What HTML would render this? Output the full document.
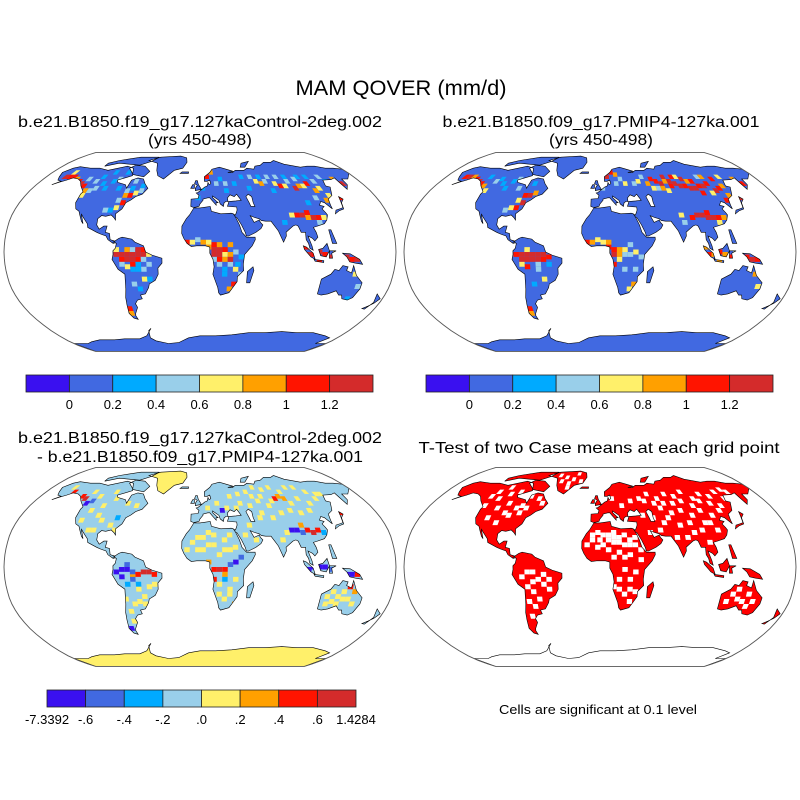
<!DOCTYPE html>
<html><head><meta charset="utf-8"><title>MAM QOVER</title>
<style>
html,body{margin:0;padding:0;background:#fff;}
svg{display:block;font-family:"Liberation Sans",sans-serif;}
</style></head>
<body>
<svg id="fig" width="800" height="800" viewBox="0 0 800 800">
<rect width="800" height="800" fill="#fff"/>
<text x="401" y="95" font-size="21" text-anchor="middle" textLength="211" lengthAdjust="spacingAndGlyphs">MAM QOVER (mm/d)</text>
<text x="200" y="127" font-size="16" text-anchor="middle" textLength="364" lengthAdjust="spacingAndGlyphs">b.e21.B1850.f19_g17.127kaControl-2deg.002</text>
<text x="200" y="145" font-size="16" text-anchor="middle" textLength="104" lengthAdjust="spacingAndGlyphs">(yrs 450-498)</text>
<text x="601" y="127" font-size="16" text-anchor="middle" textLength="317" lengthAdjust="spacingAndGlyphs">b.e21.B1850.f09_g17.PMIP4-127ka.001</text>
<text x="601" y="145" font-size="16" text-anchor="middle" textLength="104" lengthAdjust="spacingAndGlyphs">(yrs 450-498)</text>
<text x="200" y="443" font-size="16" text-anchor="middle" textLength="364" lengthAdjust="spacingAndGlyphs">b.e21.B1850.f19_g17.127kaControl-2deg.002</text>
<text x="200" y="462" font-size="16" text-anchor="middle" textLength="326" lengthAdjust="spacingAndGlyphs">- b.e21.B1850.f09_g17.PMIP4-127ka.001</text>
<text x="599" y="453" font-size="16" text-anchor="middle" textLength="361" lengthAdjust="spacingAndGlyphs">T-Test of two Case means at each grid point</text>
<text x="598" y="714" font-size="13" text-anchor="middle" textLength="198" lengthAdjust="spacingAndGlyphs">Cells are significant at 0.1 level</text>
<defs id="defs"></defs>
<g id="maps"></g>
</svg>
<script>
// ---------- colour scales ----------
const palette = ["#3a10f0","#4169e1","#00aaff","#99cfea","#fff06a","#ffa000","#ff1400","#d42b2b"];
const absLevels = [0,0.2,0.4,0.6,0.8,1,1.2];
const absLabels = ["0","0.2","0.4","0.6","0.8","1","1.2"];
const diffLevels = [-0.6,-0.4,-0.2,0,0.2,0.4,0.6];
const diffLabels = ["-7.3392","-.6","-.4","-.2",".0",".2",".4",".6","1.4284"];

// ---------- panel data: grid cells [lon, lat, value] ----------
const ctlBase = 0.1;
const ctlCells = [[-157,62,1.3],[-152,62,1.1],[-147,62,1.1],[-142,60,0.9],[-152,66,0.7],[-137,58,1.1],[-132,56,1.3],[-127,54,1.1],[-122,50,0.9],[-127,60,0.5],[-117,58,0.5],[-112,62,0.3],[-102,66,0.3],[-87,66,0.3],[-122,46,0.7],
[-77,46,0.9],[-72,46,1.1],[-67,48,0.7],[-82,42,0.5],[-77,40,1.1],[-82,36,0.7],[-87,34,0.3],[-92,34,0.5],[-72,58,0.5],[-62,54,0.3],
[-97,58,0.3],[-92,60,0.5],[-107,56,0.3],[-117,50,0.5],[-87,52,0.3],[-77,50,0.5],[-72,52,0.3],[-62,50,0.5],[-102,52,0.3],[-112,52,0.5],
[-77,-2,1.3],[-72,-2,1.3],[-67,-2,1.3],[-62,-2,1.3],[-57,-2,1.3],[-52,-2,1.3],[-72,-6,1.1],[-67,-6,1.3],[-62,-6,1.3],[-57,-6,1.1],[-52,-6,0.5],[-77,2,0.7],[-67,2,0.9],[-62,2,0.5],[-72,-10,0.5],[-67,-12,0.7],[-47,-2,0.7],[-57,-14,0.3],[-52,-22,0.7],[-47,-22,0.3],[-72,-46,1.1],[-72,-50,0.9],
[-57,2,1.3],[-52,2,1.1],[-62,-10,1.1],[-57,-10,0.3],[-47,-10,0.5],[-62,-14,0.3],[-52,-14,0.5],[-57,-30,0.3],[-62,-26,0.5],
[-12,8,1.1],[-7,8,0.7],[3,8,0.9],[8,4,0.9],[13,2,1.3],[18,2,1.3],[23,2,1.1],[13,-2,1.3],[18,-2,1.3],[23,-2,0.7],[28,-2,0.9],[18,-6,1.1],[23,-6,0.9],[13,-6,0.5],[28,-10,0.5],[33,-14,0.7],[28,6,0.9],[32,-26,1.1],[28,-30,0.9],[38,-18,0.5],[35,-10,0.3],
[28,-6,1.3],[13,6,1.1],[18,6,0.9],[23,-14,0.3],[18,-10,0.5],[8,8,0.7],[-2,10,0.5],[33,0,0.5],[38,-4,0.3],[23,-18,0.3],
[8,62,1.1],[13,66,0.9],[3,52,0.3],[23,60,0.3],[28,56,0.5],[38,56,0.3],[28,50,0.3],[18,56,0.5],[-2,44,0.3],
[63,58,0.7],[68,56,0.9],[73,58,0.5],[83,56,0.7],[88,54,1.1],[93,54,0.7],[98,58,0.5],[103,52,1.3],[108,54,0.9],[113,54,0.7],[118,56,1.1],[123,50,0.9],[128,52,0.7],[88,62,0.5],[113,62,0.3],[138,62,0.5],
[48,62,0.3],[58,62,0.5],[68,62,0.3],[78,62,0.5],[98,62,0.3],[108,60,0.5],[123,62,0.3],[128,58,0.5],[143,58,0.3],[78,50,0.3],[53,52,0.3],[118,44,0.5],[108,40,0.3],[123,34,0.5],[80,24,0.3],
[93,30,1.1],[98,30,1.3],[103,28,0.9],[108,28,1.3],[113,28,1.1],[118,28,0.7],[103,32,1.1],[113,24,0.5],[88,30,0.7],[128,42,0.9],[138,38,1.3],[143,44,1.1],[133,46,0.7],[158,56,1.3],[153,60,0.9],
[100,-2,1.3],[105,-2,1.1],[110,0,1.3],[115,-2,1.1],[120,-4,1.3],[125,2,0.9],[135,-4,1.3],[140,-6,1.1],[145,-6,1.3],[110,-8,1.1],[98,4,1.1],[145,-18,0.7],[150,-28,0.5],[145,-38,0.3]];

const pmipBase = 0.1;
const pmipCells = [[-157,62,1.1],[-152,62,1.3],[-147,62,0.9],[-142,60,1.1],[-137,58,1.3],[-132,56,1.1],[-127,54,0.9],[-122,50,0.7],[-117,58,0.5],[-127,62,0.3],[-112,60,0.3],
[-77,46,1.1],[-72,46,1.3],[-67,48,0.9],[-82,42,0.7],[-77,40,1.3],[-82,36,1.1],[-87,36,0.7],[-92,34,0.5],[-72,56,0.3],
[-97,58,0.3],[-92,60,0.5],[-107,56,0.3],[-87,52,0.5],[-102,52,0.3],
[-77,-2,1.1],[-72,-2,1.3],[-67,-2,1.3],[-62,-2,1.3],[-57,-2,1.3],[-52,-2,1.3],[-47,-4,1.1],[-72,-6,1.3],[-67,-6,1.3],[-62,-6,1.3],[-57,-6,1.3],[-52,-6,1.1],[-67,2,0.7],[-72,-10,0.7],[-67,-12,1.1],[-57,-14,0.5],[-52,-22,0.7],[-72,-46,1.1],[-72,-50,0.9],
[-57,-10,0.5],[-47,-10,0.3],[-62,-26,0.3],
[-12,8,1.1],[-7,8,0.9],[3,8,0.7],[8,4,1.1],[13,2,1.1],[18,2,0.9],[23,2,0.7],[13,-2,1.3],[18,-2,0.9],[23,-2,0.5],[28,-2,0.5],[18,-6,0.7],[13,-10,1.1],[28,6,0.5],[32,-26,0.9],[28,-30,0.7],[33,-14,0.5],
[23,-14,0.5],[8,8,0.9],[-2,10,0.7],[33,0,0.7],[38,-4,0.5],
[8,62,1.3],[13,66,1.1],[18,64,0.9],[3,52,0.5],[23,60,0.5],[28,56,0.7],[38,56,0.5],[43,58,0.7],[48,62,0.5],[18,56,0.5],
[53,56,0.9],[63,58,1.1],[68,56,1.3],[73,58,0.9],[78,54,1.1],[83,56,1.3],[88,54,1.3],[93,54,1.1],[98,58,0.9],[103,52,1.3],[108,54,1.1],[113,54,1.3],[118,56,1.1],[123,50,1.3],[128,52,1.1],[133,54,0.9],[88,62,0.7],[113,62,0.5],[138,62,0.7],[73,50,0.7],[63,52,0.5],
[58,60,1.1],[73,62,1.3],[83,62,1.1],[93,60,1.3],[103,58,1.1],[118,62,0.9],[128,60,1.1],[78,58,1.3],[98,52,1.3],[68,52,0.9],[58,52,0.7],[118,48,0.7],[108,48,1.1],
[93,30,1.3],[98,30,1.3],[103,28,1.3],[108,28,1.3],[113,28,1.1],[118,28,0.9],[103,32,1.1],[113,24,0.7],[88,28,1.1],[78,30,0.7],[128,42,1.1],[138,38,1.3],[143,44,1.3],[133,46,0.9],[158,56,1.1],[153,60,0.9],[80,24,0.5],[123,34,0.7],
[100,-2,1.1],[105,-2,0.9],[110,0,1.1],[115,-2,0.9],[120,-4,1.1],[125,2,0.7],[135,-4,1.1],[140,-6,1.3],[145,-6,1.1],[110,-8,0.9],[98,4,0.9],[145,-18,0.9],[150,-28,0.7]];

const diffBase = -0.1;
const diffCells = [[-7,20,0.1],[3,24,0.1],[13,18,0.1],[8,28,0.1],[23,22,0.1],[28,14,0.1],[18,10,0.1],[-2,14,0.1],[13,26,0.1],[33,16,0.1],[3,14,0.1],[-12,14,0.1],[28,26,0.1],
[-2,24,0.1],[23,14,0.1],[8,18,0.1],[33,-10,0.1],[28,-18,0.1],
[13,-2,0.5],[18,-2,0.7],[23,-2,0.5],[13,-10,0.5],[23,-6,0.3],[8,4,0.3],[28,2,-0.5],[33,4,-0.7],[38,8,-0.5],[23,-26,0.1],[28,-22,0.1],[18,-22,0.1],[33,-30,0.3],[18,-14,0.1],[23,-10,-0.3],
[-72,-2,-0.8],[-67,-2,-0.8],[-62,-4,-0.5],[-67,2,-0.5],[-72,-8,-0.7],[-77,-4,-0.7],[-52,-4,0.7],[-47,-4,0.7],[-42,-6,0.5],[-57,-6,0.5],[-62,-8,0.3],[-57,-14,-0.3],[-67,-14,-0.3],[-62,-10,-0.5],
[-62,-30,0.1],[-67,-36,0.1],[-57,-28,0.1],[-52,-24,0.1],[-67,-44,0.1],[-70,-26,0.1],[-72,-50,-0.7],[-42,-14,0.1],[-57,-18,0.1],[-47,-16,0.1],[-52,-30,0.1],
[-147,62,0.5],[-127,56,0.7],[-132,58,0.5],[-122,52,-0.8],[-117,54,-0.5],[-112,46,0.1],[-102,50,0.1],[-97,38,0.1],[-87,34,0.1],[-82,30,0.1],[-107,30,0.1],[-117,38,0.1],[-92,56,0.1],[-77,52,0.1],[-67,50,0.1],[-152,66,0.1],[-102,30,0.1],
[-112,58,0.1],[-97,62,0.1],[-122,62,0.1],[-87,58,0.1],[-102,42,0.1],[-82,40,-0.3],
[33,58,0.1],[43,60,0.1],[53,62,0.1],[63,66,0.1],[73,64,0.1],[83,66,0.1],[93,62,0.1],[103,66,0.1],[113,66,0.1],[123,62,0.1],[133,60,0.1],[63,54,0.1],[73,50,0.1],[53,50,0.1],[43,52,0.1],[93,46,0.1],[103,44,0.1],[113,46,0.1],[60,40,0.1],[73,40,0.1],[8,48,0.1],[18,52,0.1],[28,48,0.1],[48,34,0.1],[43,26,0.1],[53,22,0.1],[78,22,0.1],[83,28,0.1],
[38,48,0.1],[58,58,0.1],[68,58,0.1],[78,54,0.1],[98,52,0.1],[108,56,0.1],[118,52,0.1],[128,56,0.1],[138,60,0.1],[63,44,0.1],[83,44,0.1],
[83,56,0.5],[93,56,0.3],[88,58,0.3],[103,30,0.5],[108,28,0.7],[113,30,0.5],[98,34,0.3],[143,44,0.5],[93,30,-0.7],[88,30,-0.8],[98,28,-0.5],[23,46,-0.7],[118,28,-0.3],
[100,-2,-0.8],[105,0,-0.7],[110,0,-0.8],[115,0,-0.7],[120,-2,-0.5],[130,-4,-0.8],[135,-6,-0.8],[140,-6,-0.7],[145,-6,0.5],
[120,-24,0.1],[125,-28,0.1],[130,-24,0.1],[135,-20,0.1],[140,-26,0.1],[145,-30,0.1],[130,-30,0.1],[120,-30,0.1],[145,-20,0.3],[140,-16,0.5],[125,-20,0.1],[135,-26,0.1]];

// cells NOT significant (white) in the t-test panel: [lon, lat]
const sigGaps = [[-112,56],[-102,60],[-92,62],[-107,48],[-97,52],[-87,48],[-112,40],[-77,58],[-67,56],[-122,58],[-117,62],[-82,50],[-102,36],[-92,42],[-107,66],
[-97,44],[-82,44],[-122,50],[-77,48],[-62,52],
[-62,-4],[-57,-10],[-67,-16],[-52,-14],[-62,-20],[-47,-10],[-57,-26],[-67,-28],[-72,-8],[-52,-6],[-67,-4],[-62,-12],[-47,-18],[-62,-32],[-67,-40],
[-7,22],[3,26],[8,22],[13,20],[18,24],[23,26],[28,22],[33,18],[-12,18],[-2,16],[8,14],[18,12],[28,10],[38,6],[23,-2],[28,-10],[18,-18],[23,-22],[33,-20],[28,-28],[3,18],[13,28],
[0,22],[13,24],[23,18],[28,18],[-7,26],[18,20],[8,26],[-2,28],[33,24],[38,14],[13,8],[23,8],[33,-4],[18,-10],[28,-18],[13,-16],
[33,54],[43,56],[53,60],[63,56],[73,60],[83,58],[93,62],[103,56],[113,60],[123,58],[133,62],[143,64],[63,48],[73,44],[83,46],[93,42],[103,46],[113,42],[123,46],[53,40],[63,36],[78,34],[88,36],[98,30],[108,36],[23,50],[13,56],[43,42],[73,24],[103,20],
[48,54],[58,52],[68,52],[78,52],[88,54],[98,50],[108,54],[118,52],[128,50],[138,56],[148,62],[68,40],[58,30],[48,28],[83,24],[113,30],[103,36],[90,28],
[125,-22],[135,-28],[140,-22],[130,-18],[120,-28],[130,-26],[145,-28],[140,-32],
[-40,70],[-35,74],[-45,76],[-30,80],[-55,78],[-40,66],[-25,72],[-50,72]];

// ---------- coastlines (lon, lat) ----------
const LAND = {
 namerica:[[-168,66],[-162,70],[-156,71.5],[-140,70],[-128,70],[-115,68],[-95,72],[-85,70],[-80,63],[-94,59],[-92,57],[-82,55],[-79,52],[-78,59],[-72,61],[-65,60],[-61,56],[-56,52],[-60,47],[-66,45],[-70,42],[-74,40],[-76,35],[-81,31],[-80,26],[-82,28],[-85,30],[-90,29],[-94,29.5],[-97,27],[-97,22],[-94,18.5],[-90,21],[-87,21],[-88,16],[-84,15],[-83,10],[-79,9],[-78,7.5],[-80,7],[-85,10],[-87,13],[-92,14.5],[-96,16],[-105,20],[-106,23],[-112,29],[-114,31],[-110,23],[-112,25],[-115,30],[-117,33],[-121,35],[-124,40],[-124,47],[-123,49],[-130,54],[-135,58],[-140,60],[-147,61],[-152,59],[-158,57],[-163,55],[-157,58],[-162,59],[-165,62]],
 arcticis:[[-125,72],[-110,75],[-95,74],[-80,73],[-68,77],[-62,82],[-90,82],[-115,78],[-125,75]],
 baffin:[[-80,64],[-66,62],[-62,67],[-72,72],[-85,73],[-90,70]],
 greenland:[[-73,78],[-60,82],[-30,83.5],[-20,81],[-18,76],[-22,70],[-32,68],[-42,60],[-50,63],[-54,68],[-58,75],[-68,77]],
 samerica:[[-80,8],[-75,11],[-72,12],[-63,10.5],[-60,8],[-52,5],[-50,0],[-44,-2.5],[-35,-5],[-35,-9],[-39,-13],[-39,-18],[-42,-23],[-48,-26],[-49,-29],[-53,-34],[-58,-35],[-57,-38],[-62,-39],[-65,-42],[-64,-45],[-68,-50],[-69,-52],[-68,-55],[-72,-54],[-75,-50],[-74,-43],[-73,-37],[-71,-30],[-70,-18],[-76,-14],[-81,-6],[-80,-2],[-80,1],[-78,3],[-77,7]],
 africa:[[-17,15],[-17,21],[-13,27],[-10,30],[-6,35.8],[0,35.8],[10,37],[11,33],[20,31],[30,31.5],[32,31],[34,28],[37,22],[39,16],[43,12],[51,12],[51,10],[48,5],[41,-2],[40,-10],[40.5,-15],[35,-20],[35,-24],[32,-28],[28,-33],[20,-35],[18,-33],[17,-29],[12,-18],[13,-12],[12,-6],[9,-1],[9,4],[5,5],[-3,5],[-8,4.5],[-12,7],[-15,11]],
 madagascar:[[44,-25],[47,-25],[50,-15],[49,-12],[44,-16]],
 eurasia:[[-9,43],[-9,37],[-6,36],[-1,37],[0,39],[3,42],[3,43],[8,44],[10,44],[12,42],[16,38],[16,40],[18,40],[13,44],[13,45.5],[19,42],[20,39],[23,37],[24,40],[26,41],[29,41],[27,37],[36,36.5],[36,34],[35,32],[34,30],[32.5,30.5],[34,28],[35,28],[39,22],[42,16],[43,13],[45,13],[52,16],[57,19],[59,22],[57,24],[56,26],[51,24],[48,29.5],[52,28],[56,27],[58,25.5],[62,25],[67,25],[70,21],[73,17],[77,8],[80,13],[80,16],[87,21],[90,22],[92,21],[94,16],[98,16],[98,10],[100,7],[101,3],[104,1.5],[103,5],[100,13],[104,11],[106,9],[109,12],[108,16],[106,20],[110,21],[117,23],[120,26],[122,30],[121,32],[119,35],[122,37],[118,38],[121,41],[124,40],[129,35],[129,38],[130,43],[136,46],[141,53],[137,54],[140,59],[150,59.5],[156,61],[156,57],[157,51],[162,55],[163,60],[170,60],[180,65],[180,69],[170,70],[160,70],[150,72],[140,72],[130,71],[113,74],[105,78],[98,76],[88,76],[80,73],[72,72],[68,69],[60,70],[55,68],[44,68],[40,66],[34,66],[41,67],[33,69],[25,71],[15,69],[12,66],[5,62],[5,58],[8,58],[11,59],[12,56],[10,55],[9,57],[8,54],[5,53],[2,51],[-2,48.5],[-4,48],[-1,46],[-2,43.5]],
 blacksea:[[28,41],[28,44],[31,46.5],[35,45],[38,47],[41.5,42],[36,41.5]],
 caspian:[[47,45],[50,47],[53,45],[53,40],[54,37],[50,37],[49,40]],
 britain:[[-5,50],[1.5,51],[0,53],[-2,55.5],[-3,58.5],[-5,58.5],[-6,56],[-3,54.5],[-5,52]],
 ireland:[[-10,52],[-6,52],[-6,55],[-8,55]],
 iceland:[[-24,65],[-14,65],[-14,66.5],[-22,66.5]],
 novaya:[[52,71],[56,75],[68,77],[58,71]],
 japan:[[130,31],[132,34],[136,35],[140,36],[141,41],[142,45],[145,43],[141,40],[140,35],[135,33.5]],
 sumatra:[[95,5],[98,4],[104,-1],[106,-6],[102,-4],[96,2]],
 borneo:[[109,2],[111,-3],[116,-4],[119,1],[117,7],[113,3]],
 java:[[105,-6],[114,-7],[114,-8.5],[106,-7.5]],
 sulawesi:[[119,1],[125,1],[121,-1],[122,-5],[119,-5]],
 philippines:[[120,18],[122,18],[126,7],[122,7]],
 newguinea:[[131,-1],[138,-1.5],[147,-6],[150,-10],[143,-9],[138,-8],[135,-4]],
 australia:[[114,-22],[114,-34],[118,-35],[124,-34],[131,-31.5],[135,-35],[138,-35],[140,-38],[146,-39],[150,-37],[153,-30],[153,-25],[146,-19],[142,-11],[141,-17],[136,-15],[137,-12],[132,-11],[129,-15],[125,-14],[122,-18]],
 newzealand:[[172,-34],[178,-38],[175,-41.5],[171,-44],[167,-46],[170,-46.5],[174,-41]],
 antarctica:[[-180,-78],[-160,-78],[-150,-76],[-135,-74],[-115,-74],[-100,-73],[-80,-73],[-68,-70],[-58,-63],[-62,-65],[-65,-72],[-60,-75],[-45,-78],[-30,-77],[-15,-72],[0,-70],[20,-70],[40,-69],[60,-67],[80,-67],[100,-66],[120,-67],[140,-67],[160,-70],[170,-72],[165,-78],[180,-78],[180,-90],[-180,-90]]
};

// ---------- Robinson projection ----------
const RX=[1,0.9986,0.9954,0.99,0.9822,0.973,0.96,0.9427,0.9216,0.8962,0.8679,0.835,0.7986,0.7597,0.7186,0.6732,0.6213,0.5722,0.5322];
const RY=[0,0.062,0.124,0.186,0.248,0.31,0.372,0.434,0.4958,0.5571,0.6176,0.6769,0.7346,0.7903,0.8435,0.8936,0.9394,0.9761,1];
const RAD=73.5;
function proj(lon,lat,cx,cy){
  const a=Math.min(Math.abs(lat),90)/5, i=Math.min(Math.floor(a),17), f=a-i;
  const X=RX[i]+(RX[i+1]-RX[i])*f, Y=RY[i]+(RY[i+1]-RY[i])*f;
  return [cx+0.8487*RAD*X*lon*Math.PI/180, cy-1.3523*RAD*Y*Math.sign(lat)];
}
function polyPath(pts,cx,cy){
  return pts.map((p,k)=>{const q=proj(p[0],p[1],cx,cy);return (k?'L':'M')+q[0].toFixed(1)+','+q[1].toFixed(1);}).join('')+'Z';
}
function cellPath(lon,lat,cx,cy){
  const c=[[lon-2.5,lat-2],[lon+2.5,lat-2],[lon+2.5,lat+2],[lon-2.5,lat+2]];
  return polyPath(c,cx,cy);
}
function borderPath(cx,cy){
  let s='';
  for(let la=90;la>=-90;la-=5){const q=proj(-180,la,cx,cy);s+=(s?'L':'M')+q[0].toFixed(1)+','+q[1].toFixed(1);}
  for(let la=-90;la<=90;la+=5){const q=proj(180,la,cx,cy);s+='L'+q[0].toFixed(1)+','+q[1].toFixed(1);}
  return s+'Z';
}
function colorFor(v,levels){let i=0;while(i<levels.length&&v>=levels[i])i++;return palette[i];}

const NS='http://www.w3.org/2000/svg';
const defs=document.getElementById('defs');
const maps=document.getElementById('maps');
function mk(tag,attrs,parent){const e=document.createElementNS(NS,tag);for(const k in attrs)e.setAttribute(k,attrs[k]);parent.appendChild(e);return e;}

function landPath(cx,cy,keys){return keys.map(k=>polyPath(LAND[k],cx,cy)).join('');}
const allKeys=Object.keys(LAND);

function drawMap(id,cx,cy,opt){
  const g=mk('g',{},maps);
  
  
  const cp=mk('clipPath',{id:id+'-clip'},defs);
  mk('path',{d:landPath(cx,cy,allKeys),'clip-rule':'evenodd'},cp);
  const bp=mk('clipPath',{id:id+'-bclip'},defs);
  mk('path',{d:borderPath(cx,cy)},bp);
  const inner=mk('g',{'clip-path':'url(#'+id+'-bclip)'},g);
  const land=mk('g',{'clip-path':'url(#'+id+'-clip)'},inner);
  allKeys.forEach(k=>{
    const fill=(opt.regionFill&&opt.regionFill[k]!==undefined)?opt.regionFill[k]:opt.baseFill;
    if(!fill)return;
    const p=mk('path',{d:polyPath(LAND[k],cx,cy),fill:fill},land);
    
    
  });
  (opt.cells||[]).forEach(c=>{
    const p=mk('path',{d:cellPath(c[0],c[1],cx,cy),fill:opt.cellColor(c)},land);
    
    
  });
  ['blacksea','caspian'].forEach(k=>mk('path',{d:polyPath(LAND[k],cx,cy),fill:'#fff'},inner));
  const coast=mk('path',{d:landPath(cx,cy,allKeys),fill:'none',stroke:'#000','stroke-width':0.6},inner);
  
  
  const b=mk('path',{d:borderPath(cx,cy),fill:'none',stroke:'#555','stroke-width':0.9},g);
  
  
}

drawMap('panel1',200,252,{baseFill:colorFor(ctlBase,absLevels),cells:ctlCells,cellColor:c=>colorFor(c[2],absLevels)});
drawMap('panel2',600,252,{baseFill:colorFor(pmipBase,absLevels),cells:pmipCells,cellColor:c=>colorFor(c[2],absLevels)});
drawMap('panel3',200,567,{baseFill:colorFor(diffBase,diffLevels),regionFill:{greenland:colorFor(0.1,diffLevels),antarctica:colorFor(0.1,diffLevels)},cells:diffCells,cellColor:c=>colorFor(c[2],diffLevels)});
drawMap('panel4',600,567,{baseFill:'#ff0000',regionFill:{antarctica:null},cells:sigGaps,cellColor:c=>'#ffffff'});

// ---------- colorbars ----------
function colorbar(id,x0,y0,w,h,labels,labelAtEdges){
  const g=mk('g',{},document.getElementById('fig'));
  
  
  const n=palette.length, bw=w/n;
  palette.forEach((c,i)=>{
    const r=mk('rect',{x:x0+i*bw,y:y0,width:bw,height:h,fill:c,stroke:'#222','stroke-width':0.8},g);
    
    
  });
  labels.forEach((t,i)=>{
    const k=labelAtEdges?i:i+1;
    const tx=mk('text',{x:x0+k*bw,y:y0+h+17,'font-size':13,'text-anchor':'middle'},g);
    tx.textContent=t;
    
    
  });
}
colorbar('colorbar1',26,375,347,17,absLabels,false);
colorbar('colorbar2',426,375,347,17,absLabels,false);
colorbar('colorbar3',47,690,309,17,diffLabels,true);
</script>
</body></html>
